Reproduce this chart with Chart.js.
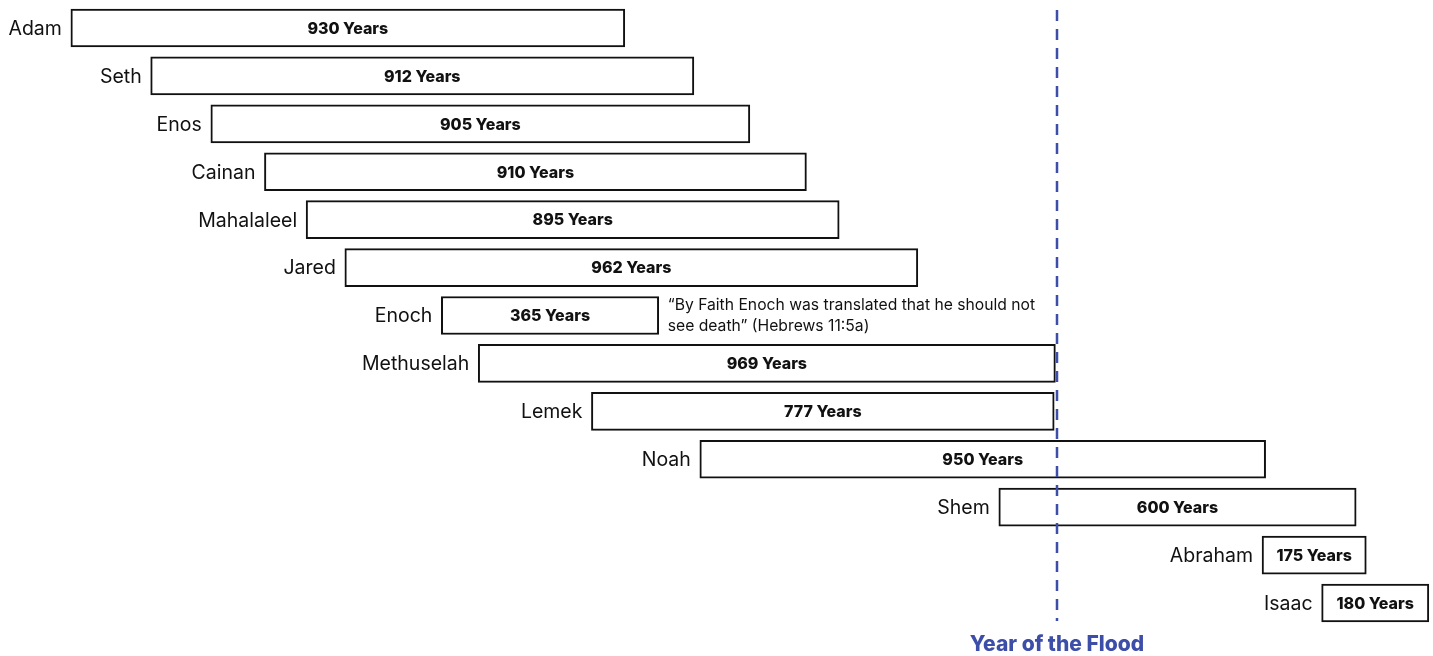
<!DOCTYPE html>
<html>
<head>
<meta charset="utf-8">
<script src="https://cdn.jsdelivr.net/npm/chart.js@4/dist/chart.umd.min.js"></script>
<style>
  html, body { margin: 0; padding: 0; background: #fff; }
  #wrap { width: 1433px; height: 656px; }
</style>
</head>
<body>
<div id="wrap"><canvas id="lifespanChart"></canvas></div>
<script>
// years counted from creation (Anno Mundi), as placed in the picture
const names = ['Adam', 'Seth', 'Enos', 'Cainan', 'Mahalaleel', 'Jared', 'Enoch',
    'Methuselah', 'Lemek', 'Noah', 'Shem', 'Abraham', 'Isaac'];
const births = [0, 134, 235, 325, 395, 460, 622, 684, 874, 1056, 1558, 2000, 2100];
const lifespans = [930, 912, 905, 910, 895, 962, 365, 969, 777, 950, 600, 175, 180];
const floodYear = 1656;
const floodLabel = 'Year of the Flood';
const enochNote = ['\u201CBy Faith Enoch was translated that he should not', 'see death\u201D (Hebrews 11:5a)'];

const FONT = 'Inter, "Noto Sans", sans-serif';
const FLOOD_BLUE = '#3d4ea8';

const ranges = births.map((b, i) => [b, b + lifespans[i]]);

const labelsPlugin = {
    id: 'lifespanLabels',
    afterDatasetsDraw(chart) {
        const ctx = chart.ctx;
        const x = chart.scales.x;
        const meta = chart.getDatasetMeta(0);
        ctx.save();

        // flood line
        const fx = Math.round(x.getPixelForValue(floodYear));
        ctx.strokeStyle = FLOOD_BLUE;
        ctx.lineWidth = 2.5;
        ctx.setLineDash([11, 8]);
        ctx.beginPath();
        ctx.moveTo(fx, 10);
        ctx.lineTo(fx, 621);
        ctx.stroke();
        ctx.setLineDash([]);

        meta.data.forEach((bar, i) => {
            const left = x.getPixelForValue(ranges[i][0]);
            const right = x.getPixelForValue(ranges[i][1]);
            // name to the left of the bar
            ctx.fillStyle = '#111';
            ctx.font = '19.5px ' + FONT;
            ctx.textAlign = 'right';
            ctx.textBaseline = 'middle';
            ctx.fillText(names[i], left - 9, bar.y + 1);
            // lifespan inside bar
            ctx.font = '800 16px ' + FONT;
            ctx.textAlign = 'center';
            ctx.fillText(lifespans[i] + ' Years', (left + right) / 2, bar.y + 1);
            if (names[i] === 'Enoch') {
                ctx.font = '15.7px ' + FONT;
                ctx.textAlign = 'left';
                ctx.fillText(enochNote[0], right + 9, bar.y - 10);
                ctx.fillText(enochNote[1], right + 9, bar.y + 11);
            }
        });

        ctx.fillStyle = FLOOD_BLUE;
        ctx.font = '800 21px ' + FONT;
        ctx.textAlign = 'center';
        ctx.textBaseline = 'middle';
        ctx.fillText(floodLabel, fx, 645);
        ctx.restore();
    }
};

new Chart(document.getElementById('lifespanChart'), {
    type: 'bar',
    data: {
        labels: names,
        datasets: [{
            data: ranges,
            backgroundColor: '#ffffff',
            borderColor: '#111111',
            borderWidth: 2,
            borderSkipped: false,
            barThickness: 38
        }]
    },
    options: {
        indexAxis: 'y',
        responsive: true,
        maintainAspectRatio: false,
        animation: false,
        layout: { padding: { top: 4, bottom: 29, left: 0, right: 0 } },
        plugins: {
            legend: { display: false },
            tooltip: { enabled: false }
        },
        scales: {
            x: { display: false, min: -119, max: 2287 },
            y: { display: false }
        }
    },
    plugins: [labelsPlugin]
});
</script>
</body>
</html>
